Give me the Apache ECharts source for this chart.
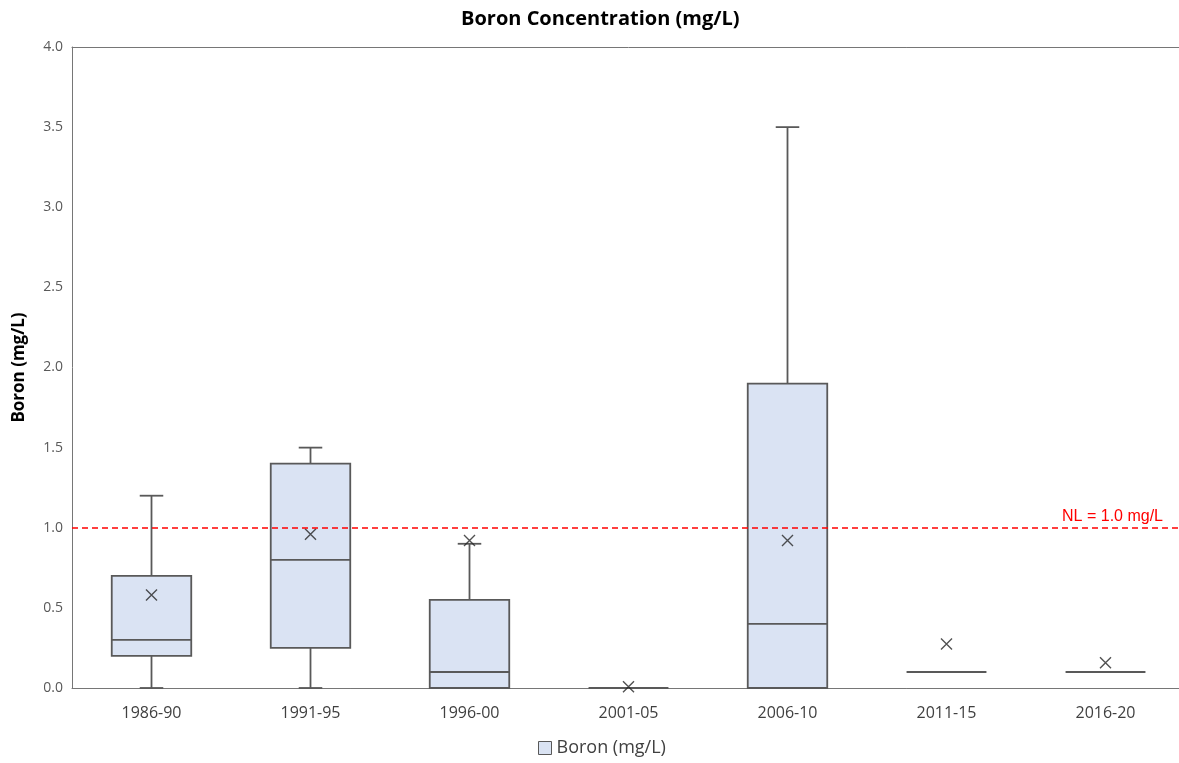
<!DOCTYPE html>
<html>
<head>
<meta charset="utf-8">
<script src="https://cdn.jsdelivr.net/npm/echarts@6/dist/echarts.min.js"></script>
<style>html,body{margin:0;padding:0;background:#fff;overflow:hidden;}#c{width:1185px;height:763px;}</style>
</head>
<body>
<div id="c"></div>
<script>
const categories = ['1986-90', '1991-95', '1996-00', '2001-05', '2006-10', '2011-15', '2016-20'];
const minVals    = [0,    0,    0,    0,     0,    0.1,  0.1];
const q1Vals     = [0.2,  0.25, 0,    0,     0,    0.1,  0.1];
const medianVals = [0.3,  0.8,  0.1,  0,     0.4,  0.1,  0.1];
const q3Vals     = [0.7,  1.4,  0.55, 0,     1.9,  0.1,  0.1];
const maxVals    = [1.2,  1.5,  0.9,  0,     3.5,  0.1,  0.1];
const meanVals   = [0.58, 0.96, 0.92, 0.008, 0.92, 0.275, 0.157];
const yTicks     = [0, 0.5, 1, 1.5, 2, 2.5, 3, 3.5, 4];
const nlValue    = 1.0;

const FONT = '"Open Sans", "Noto Sans", sans-serif';
const boxData = categories.map((c, i) => [i, minVals[i], q1Vals[i], medianVals[i], q3Vals[i], maxVals[i]]);
const meanData = categories.map((c, i) => [i, meanVals[i]]);

const chart = echarts.init(document.getElementById('c'), null, {renderer: 'canvas'});
const stroke = '#595959';

chart.setOption({
  animation: false,
  backgroundColor: '#ffffff',
  title: {
    text: 'Boron Concentration (mg/L)',
    left: 456, top: 4,
    textStyle: {fontFamily: FONT, fontWeight: 'bold', fontSize: 20, color: '#000'}
  },
  legend: {
    bottom: 1, left: 533,
    itemWidth: 13, itemHeight: 13, itemGap: 8,
    textStyle: {fontFamily: FONT, fontSize: 18, color: '#404040'},
    data: [{name: 'Boron (mg/L)', icon: 'rect', itemStyle: {color: '#dae3f3', borderColor: stroke, borderWidth: 1}}]
  },
  grid: {
    left: 72, top: 47, right: 0, bottom: 75,
    show: false
  },
  xAxis: [{
    type: 'category', data: categories,
    axisLine: {lineStyle: {color: '#767676', width: 1}},
    axisTick: {show: false},
    axisLabel: {fontFamily: FONT, fontSize: 16, color: '#404040', margin: 17},
    splitLine: {show: false}
  }, {
    type: 'category', data: categories, position: 'top',
    axisLine: {show: true, lineStyle: {color: '#767676', width: 1}},
    axisTick: {show: false}, axisLabel: {show: false}, splitLine: {show: false}
  }],
  yAxis: {
    type: 'value', min: 0, max: 4, interval: 0.5,
    name: 'Boron (mg/L)', nameLocation: 'middle', nameGap: 44, nameRotate: 90,
    nameTextStyle: {fontFamily: FONT, fontWeight: 'bold', fontSize: 17, color: '#000'},
    axisLine: {show: true, lineStyle: {color: '#767676', width: 1}},
    axisTick: {show: false},
    axisLabel: {fontFamily: FONT, fontSize: 14, color: '#595959', margin: 9,
      formatter: v => yTicks.indexOf(v) >= 0 ? v.toFixed(1) : ''},
    splitLine: {show: false}
  },
  series: [
    {
      name: 'Boron (mg/L)',
      type: 'custom',
      data: boxData,
      itemStyle: {color: '#dae3f3', borderColor: stroke, borderWidth: 1.5},
      encode: {x: 0, y: [1, 2, 3, 4, 5]},
      renderItem: function (params, api) {
        const x = api.value(0);
        const pMin = api.coord([x, api.value(1)]);
        const pQ1 = api.coord([x, api.value(2)]);
        const pMed = api.coord([x, api.value(3)]);
        const pQ3 = api.coord([x, api.value(4)]);
        const pMax = api.coord([x, api.value(5)]);
        const band = api.size([1, 0])[0];
        const bw = band * 0.5;
        const cw = band * 0.148;
        const cx = pMin[0];
        const ls = {stroke: stroke, lineWidth: 1.8, fill: null};
        const children = [
          {type: 'line', shape: {x1: cx, y1: pMin[1], x2: cx, y2: pQ1[1]}, style: ls},
          {type: 'line', shape: {x1: cx, y1: pQ3[1], x2: cx, y2: pMax[1]}, style: ls},
          {type: 'line', shape: {x1: cx - cw / 2, y1: pMin[1], x2: cx + cw / 2, y2: pMin[1]}, style: ls},
          {type: 'line', shape: {x1: cx - cw / 2, y1: pMax[1], x2: cx + cw / 2, y2: pMax[1]}, style: ls},
          {type: 'rect', shape: {x: cx - bw / 2, y: pQ3[1], width: bw, height: pQ1[1] - pQ3[1]},
            style: {fill: '#dae3f3', stroke: stroke, lineWidth: 1.8}},
          {type: 'line', shape: {x1: cx - bw / 2, y1: pMed[1], x2: cx + bw / 2, y2: pMed[1]}, style: ls}
        ];
        return {type: 'group', children: children};
      },
      z: 2
    },
    {
      name: 'Mean',
      type: 'scatter',
      data: meanData,
      symbol: 'path://M0,0L10,10M10,0L0,10',
      symbolSize: 11,
      itemStyle: {color: 'rgba(0,0,0,0)', borderColor: '#262626', borderWidth: 1.4},
      z: 4,
      markLine: {
        silent: true, symbol: 'none',
        data: [{yAxis: nlValue}],
        lineStyle: {color: '#ff0000', type: [6, 4], width: 1.6},
        label: {position: 'insideEndTop', formatter: 'NL = 1.0 mg/L', color: '#ff0000',
          fontFamily: '"Liberation Sans", Arial, sans-serif', fontSize: 16, distance: [22, 3]}
      }
    }
  ]
});
</script>
</body>
</html>
